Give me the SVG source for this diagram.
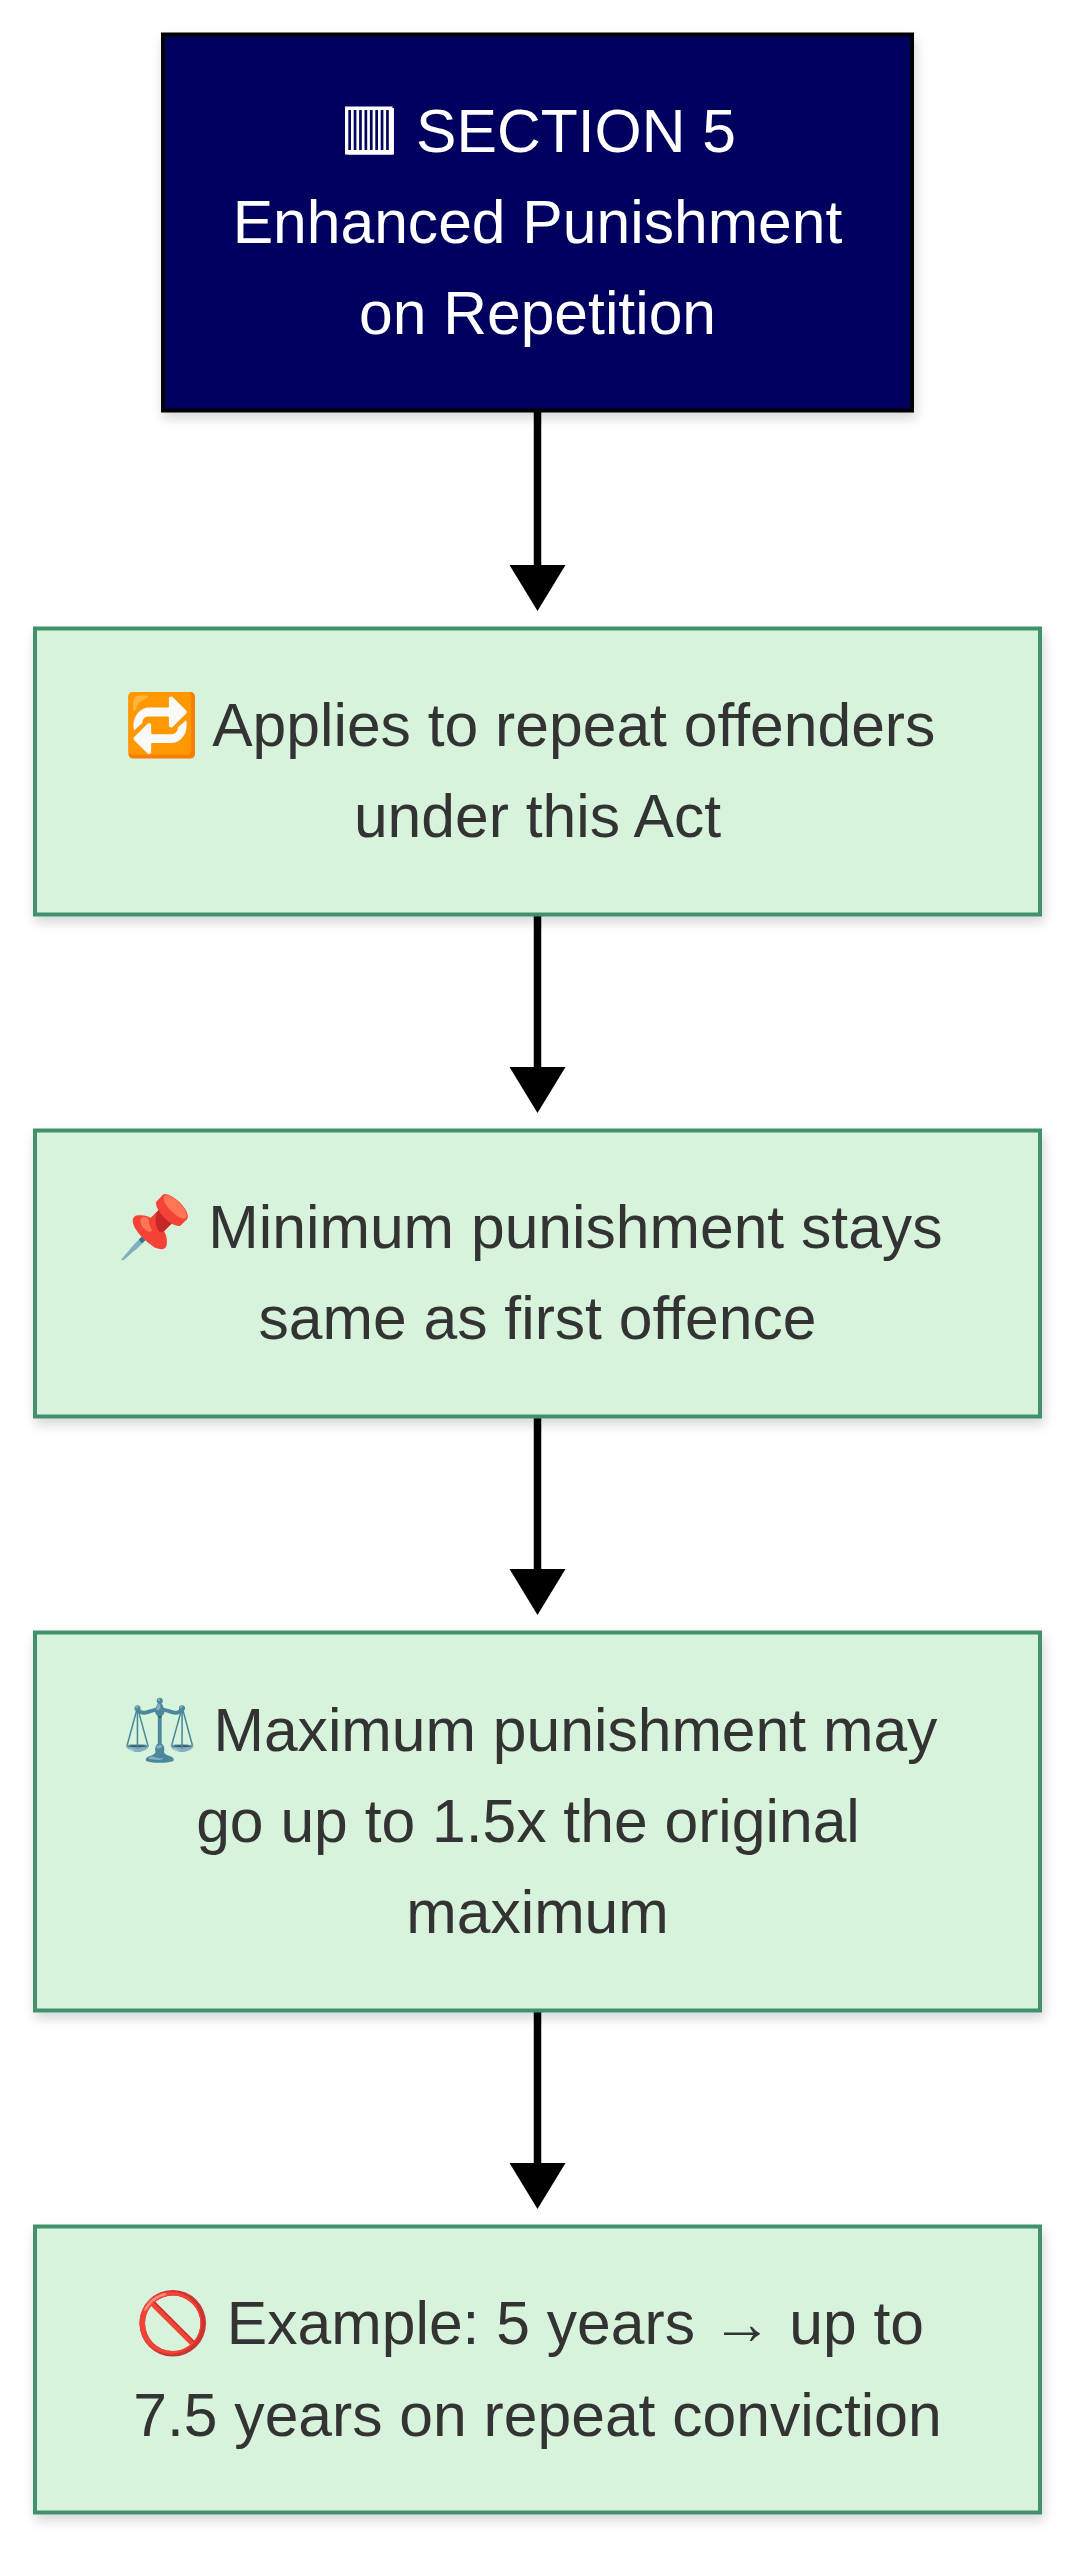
<svg xmlns="http://www.w3.org/2000/svg" width="1080" height="2560" viewBox="0 0 1080 2560">
<style>
.t{font-family:"Liberation Sans",Arial,"Noto Sans CJK SC",sans-serif;font-size:60.6px;text-anchor:middle}
.w{fill:#fff}.d{fill:#333}
.b{fill:#d8f3dc;stroke:#40916c;stroke-width:4}
.c{stroke:#000;stroke-width:7.5;fill:none}
.bar{fill:#03045e;y:110px;width:2.7px;height:40px}
</style>
<defs>
<filter id="s" x="-10%" y="-10%" width="120%" height="125%"><feDropShadow dx="2" dy="6" stdDeviation="6" flood-color="#000" flood-opacity=".16"/></filter>
</defs>
<rect width="1080" height="2560" fill="#fff"/>
<g id="connectors">
<path class="c" d="M537.5 412V566"/><polygon points="509.5,565 565.5,565 537.5,611"/>
<path class="c" d="M537.5 914V1068"/><polygon points="509.5,1067 565.5,1067 537.5,1113"/>
<path class="c" d="M537.5 1416V1570"/><polygon points="509.5,1569 565.5,1569 537.5,1615"/>
<path class="c" d="M537.5 2010V2164"/><polygon points="509.5,2163 565.5,2163 537.5,2209"/>
</g>
<g id="n0"><rect x="163" y="34.5" width="749" height="376" fill="#03045e" stroke="#000" stroke-width="4" filter="url(#s)"/>
<text class="t w" x="539" y="152"><tspan dy="-5" font-family="'DejaVu Sans',sans-serif">▥</tspan><tspan dy="5"> SECTION 5</tspan></text>
<rect x="345" y="106.5" width="47.5" height="48" fill="#fff"/>
<rect class="bar" x="348.3"/><rect class="bar" x="353.7"/><rect class="bar" x="359.1"/><rect class="bar" x="364.5"/><rect class="bar" x="369.9"/><rect class="bar" x="375.3"/><rect class="bar" x="380.7"/><rect class="bar" x="386.1"/>
<text class="t w" x="537.5" y="243">Enhanced Punishment</text><text class="t w" x="537.5" y="334">on Repetition</text></g>
<g id="n1"><rect class="b" x="35" y="628.5" width="1005" height="286" filter="url(#s)"/>
<text class="t d" x="529.5" y="746">🔁 Applies to repeat offenders</text><text class="t d" x="537.5" y="837">under this Act</text></g>
<g id="n2"><rect class="b" x="35" y="1130.5" width="1005" height="286" filter="url(#s)"/>
<text class="t d" x="529.5" y="1248">📌 Minimum punishment stays</text><text class="t d" x="537.5" y="1339">same as first offence</text></g>
<g id="n3"><rect class="b" x="35" y="1632.5" width="1005" height="378" filter="url(#s)"/>
<text class="t d" x="529.5" y="1751">⚖️ Maximum punishment may</text><text class="t d" x="528" y="1842">go up to 1.5x the original</text><text class="t d" x="537.5" y="1933">maximum</text></g>
<g id="n4"><rect class="b" x="35" y="2226.5" width="1005" height="286" filter="url(#s)"/>
<text class="t d" x="529.5" y="2344">🚫 Example: 5 years → up to</text><text class="t d" x="537.5" y="2436">7.5 years on repeat conviction</text></g>
</svg>
